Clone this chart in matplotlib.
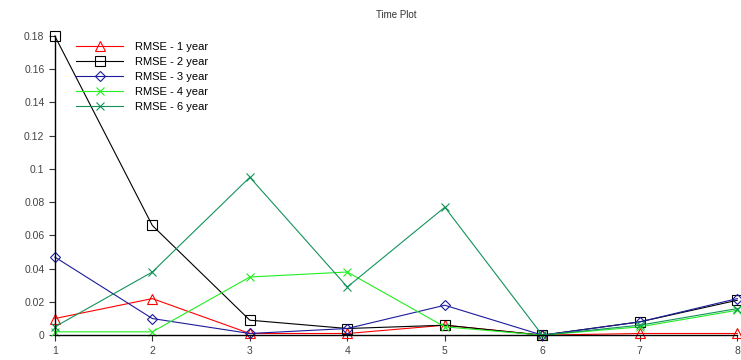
import matplotlib
matplotlib.use("Agg")
import matplotlib.pyplot as plt

# Time steps and RMSE per forecast horizon
steps = [1, 2, 3, 4, 5, 6, 7, 8]
rmse_1 = [0.010, 0.022, 0.001, 0.001, 0.006, 0.000, 0.001, 0.001]
rmse_2 = [0.180, 0.066, 0.009, 0.004, 0.006, 0.000, 0.008, 0.021]
rmse_3 = [0.047, 0.010, 0.001, 0.004, 0.018, 0.000, 0.008, 0.022]
rmse_4 = [0.002, 0.002, 0.035, 0.038, 0.005, 0.000, 0.005, 0.015]
rmse_6 = [0.005, 0.038, 0.095, 0.029, 0.077, 0.000, 0.006, 0.016]

labels = ["RMSE - 1 year", "RMSE - 2 year", "RMSE - 3 year",
          "RMSE - 4 year", "RMSE - 6 year"]
yticks = [0, 0.02, 0.04, 0.06, 0.08, 0.1, 0.12, 0.14, 0.16, 0.18]
ytick_labels = ["0", "0.02", "0.04", "0.06", "0.08", "0.1",
                "0.12", "0.14", "0.16", "0.18"]

plt.rcParams.update({
    'font.family': 'Liberation Sans',
    'font.size': 7.5,
})

fig = plt.figure(figsize=(7.41, 3.6), dpi=100)
ax = fig.add_axes([0.074, 0.069, 0.921, 0.831])

series = [rmse_1, rmse_2, rmse_3, rmse_4, rmse_6]
colors = ['#ff0000', '#000000', '#1c1c9c', '#22ee22', '#13935a']
markers = ['^', 's', 'D', 'x', 'x']
sizes = [7.5, 7, 5, 6, 6]

for vals, lab, c, m, s in zip(series, labels, colors, markers, sizes):
    ax.plot(steps, vals, color=c, linewidth=0.8, marker=m, markersize=s,
            markerfacecolor='none', markeredgecolor=c, markeredgewidth=0.8,
            label=lab, clip_on=False)

ax.set_xlim(1, 8)
ax.set_ylim(0, 0.18)
ax.set_xticks(steps)
ax.set_yticks(yticks)
ax.set_yticklabels(ytick_labels)
ax.tick_params(axis='both', direction='out', length=4, width=0.8,
               labelsize=7.5, colors='#333333', labelcolor='#444444')
ax.spines['top'].set_visible(False)
ax.spines['right'].set_visible(False)
ax.spines['left'].set_linewidth(1.0)
ax.spines['bottom'].set_linewidth(1.0)

ax.set_title('Time Plot', fontsize=7, color='#333333', pad=13)

ax.legend(loc='upper left', bbox_to_anchor=(0.024, 0.995), frameon=False,
          fontsize=8, handlelength=4.3, handletextpad=1.0,
          labelspacing=0.45, borderaxespad=0)

fig.savefig('out.png', dpi=100, facecolor='white')
